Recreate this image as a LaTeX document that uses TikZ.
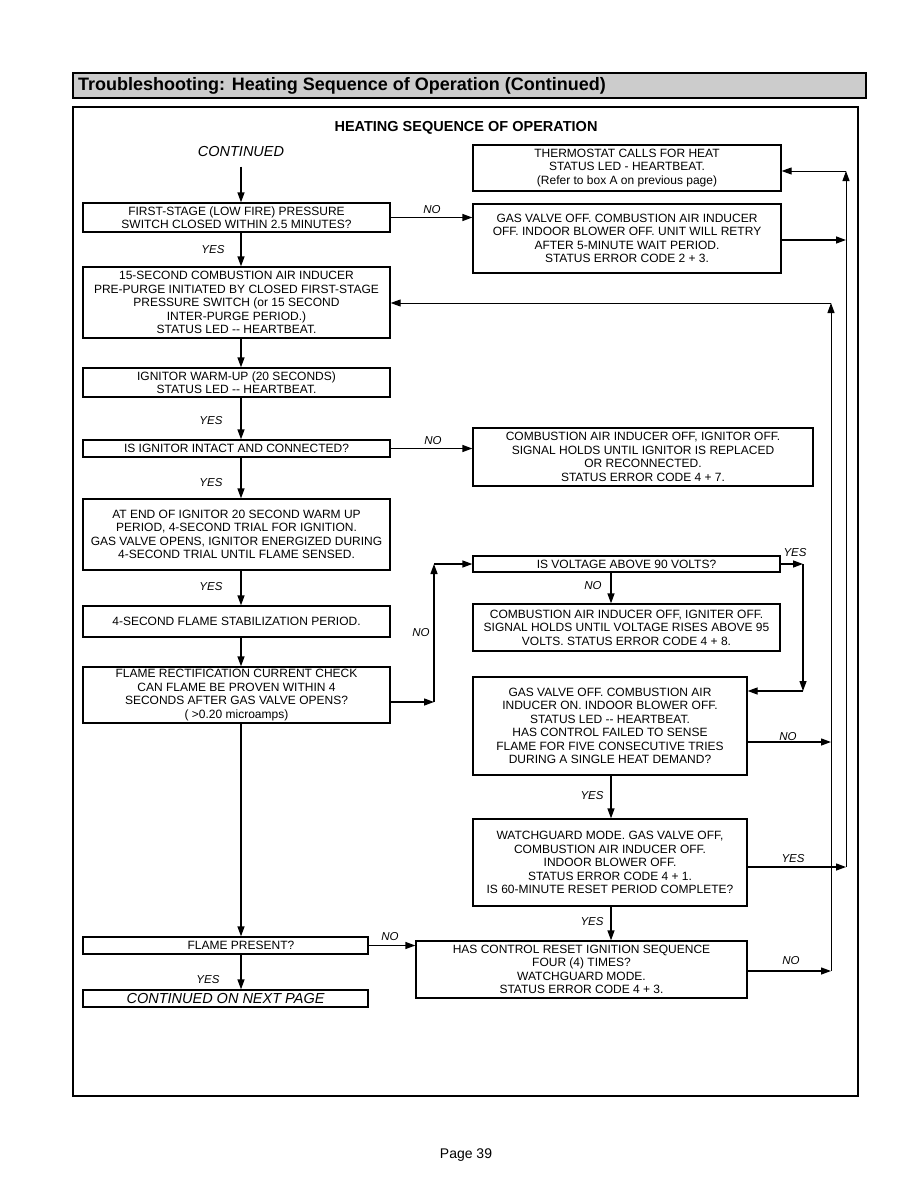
\documentclass[tikz,border=0pt]{standalone}
\usepackage{fontspec}
\setmainfont{Liberation Sans}
\usetikzlibrary{arrows.meta,positioning,calc}

\begin{document}
\begin{tikzpicture}[x=1pt, y=-1pt,
    box/.style={draw, line width=1.3pt, align=center, inner sep=1pt, font=\fontsize{12}{13.5}\selectfont},
    arr/.style={line width=1.3pt, -{Triangle[length=10pt,width=7pt]}},
    loop/.style={line width=1pt, -{Triangle[length=10pt,width=7pt]}},
    lbl/.style={inner sep=0pt, font=\fontsize{11.5}{12}\selectfont\itshape}]
  \useasboundingbox (0,0) rectangle (918,1188);
  % title bar and frame
  \draw[line width=1.5pt, fill=gray!40] (73,73) rectangle (866,98);
  \node[anchor=west, inner sep=0pt, font=\fontsize{18}{20}\selectfont\bfseries] (title) at (78,85.5) {Troubleshooting: Heating Sequence of Operation (Continued)};
  \draw[line width=2pt] (73,107) rectangle (858,1096);
  \node[font=\fontsize{14.5}{16}\selectfont\bfseries] (head) at (466,128) {HEATING SEQUENCE OF OPERATION};
  \node[font=\fontsize{14.5}{16}\selectfont\itshape] (cont) at (241,152) {CONTINUED};
  \node[font=\fontsize{14}{16}\selectfont] (page) at (466,1155) {Page 39};

  % left column
  \node[box, minimum width=307pt, minimum height=29pt] (stage1) at (236.5,217.5) {FIRST-STAGE (LOW FIRE) PRESSURE\\SWITCH CLOSED WITHIN 2.5 MINUTES?};
  \node[box, minimum width=307pt, minimum height=71pt] (purge) at (236.5,302.5) {15-SECOND COMBUSTION AIR INDUCER\\PRE-PURGE INITIATED BY CLOSED FIRST-STAGE\\PRESSURE SWITCH (or 15 SECOND\\INTER-PURGE PERIOD.)\\STATUS LED -{}- HEARTBEAT.};
  \node[box, minimum width=307pt, minimum height=29pt] (warmup) at (236.5,382.5) {IGNITOR WARM-UP (20 SECONDS)\\STATUS LED -{}- HEARTBEAT.};
  \node[box, minimum width=307pt, minimum height=17pt] (intact) at (236.5,448.5) {IS IGNITOR INTACT AND CONNECTED?};
  \node[box, minimum width=307pt, minimum height=71pt] (trial) at (236.5,534.5) {AT END OF IGNITOR 20 SECOND WARM UP\\PERIOD, 4-SECOND TRIAL FOR IGNITION.\\GAS VALVE OPENS, IGNITOR ENERGIZED DURING\\4-SECOND TRIAL UNTIL FLAME SENSED.};
  \node[box, minimum width=307pt, minimum height=31pt] (stab) at (236.5,621.5) {4-SECOND FLAME STABILIZATION PERIOD.};
  \node[box, minimum width=307pt, minimum height=56pt] (rect) at (236.5,695) {FLAME RECTIFICATION CURRENT CHECK\\CAN FLAME BE PROVEN WITHIN 4\\SECONDS AFTER GAS VALVE OPENS?\\( >0.20 microamps)};
  \node[box, minimum width=285pt, minimum height=17pt] (flame) at (225.5,945.5) {\hspace*{31pt}FLAME PRESENT?};
  \node[box, minimum width=285pt, minimum height=17pt, font=\fontsize{14.5}{15}\selectfont\itshape] (nextpg) at (225.5,998.5) {CONTINUED ON NEXT PAGE};

  % right column
  \node[box, minimum width=308pt, minimum height=46pt] (thermo) at (627,168) {THERMOSTAT CALLS FOR HEAT\\STATUS LED - HEARTBEAT.\\(Refer to box A on previous page)};
  \node[box, minimum width=308pt, minimum height=69pt] (retry) at (627,238.5) {GAS VALVE OFF. COMBUSTION AIR INDUCER\\OFF. INDOOR BLOWER OFF. UNIT WILL RETRY\\AFTER 5-MINUTE WAIT PERIOD.\\STATUS ERROR CODE 2 + 3.};
  \node[box, minimum width=340pt, minimum height=58pt] (ignoff) at (643,457) {COMBUSTION AIR INDUCER OFF, IGNITOR OFF.\\SIGNAL HOLDS UNTIL IGNITOR IS REPLACED\\OR RECONNECTED.\\STATUS ERROR CODE 4 + 7.};
  \node[box, minimum width=307pt, minimum height=16pt] (volt) at (626.5,564) {IS VOLTAGE ABOVE 90 VOLTS?};
  \node[box, minimum width=307pt, minimum height=47pt] (lowv) at (626.5,627.5) {COMBUSTION AIR INDUCER OFF, IGNITER OFF.\\SIGNAL HOLDS UNTIL VOLTAGE RISES ABOVE 95\\VOLTS. STATUS ERROR CODE 4 + 8.};
  \node[box, minimum width=274pt, minimum height=98pt] (fail5) at (610,726) {GAS VALVE OFF. COMBUSTION AIR\\INDUCER ON. INDOOR BLOWER OFF.\\STATUS LED -{}- HEARTBEAT.\\HAS CONTROL FAILED TO SENSE\\FLAME FOR FIVE CONSECUTIVE TRIES\\DURING A SINGLE HEAT DEMAND?};
  \node[box, minimum width=274pt, minimum height=87pt] (watch) at (610,862.5) {WATCHGUARD MODE. GAS VALVE OFF,\\COMBUSTION AIR INDUCER OFF.\\INDOOR BLOWER OFF.\\STATUS ERROR CODE 4 + 1.\\IS 60-MINUTE RESET PERIOD COMPLETE?};
  \node[box, minimum width=331pt, minimum height=57pt] (reset) at (581.5,969.5) {HAS CONTROL RESET IGNITION SEQUENCE\\FOUR (4) TIMES?\\WATCHGUARD MODE.\\STATUS ERROR CODE 4 + 3.};

  \coordinate (spine) at (241,0);
  \coordinate (midcol) at (611,0);
  \coordinate (nojog) at (434,702);
  \coordinate (nojogtop) at (434,564);
  \coordinate (yesjog) at (803,564);
  \coordinate (yesjogbot) at (803,691);
  \coordinate (retryout) at (846,240);
  \coordinate (failno) at (831,742);
  \coordinate (watchyes) at (846,867);
  \coordinate (resetno) at (831,971);
  \coordinate (innertop) at (831,303);
  \coordinate (outertop) at (846,171);

  % main sequence
  \draw[arr, shorten <=6pt] (cont.south) -- (stage1.north -| spine);
  \draw[arr] (stage1.south -| spine) -- (purge.north -| spine);
  \draw[arr] (purge.south -| spine) -- (warmup.north -| spine);
  \draw[arr] (warmup.south -| spine) -- (intact.north -| spine);
  \draw[arr] (intact.south -| spine) -- (trial.north -| spine);
  \draw[arr] (trial.south -| spine) -- (stab.north -| spine);
  \draw[arr] (stab.south -| spine) -- (rect.north -| spine);
  \draw[arr] (rect.south -| spine) -- (flame.north -| spine);
  \draw[arr] (flame.south -| spine) -- (nextpg.north -| spine);

  % branches
  \draw[arr] (stage1.east) -- (stage1.east -| retry.west);
  \draw[arr] (intact.east) -- (intact.east -| ignoff.west);
  \draw[arr] (rect.east |- nojog) -- (nojog);
  \draw[arr] (nojog) -- (nojogtop);
  \draw[arr] (nojogtop) -- (volt.west);
  \draw[arr] (volt.south -| midcol) -- (lowv.north -| midcol);
  \draw[arr] (volt.east) -- (yesjog);
  \draw[arr] (yesjog) -- (yesjogbot);
  \draw[arr] (yesjogbot) -- (yesjogbot -| fail5.east);
  \draw[arr] (fail5.south -| midcol) -- (watch.north -| midcol);
  \draw[arr] (watch.south -| midcol) -- (reset.north -| midcol);
  \draw[arr] (flame.east) -- (flame.east -| reset.west);
  \draw[arr] (retry.east |- retryout) -- (retryout);
  \draw[arr] (fail5.east |- failno) -- (failno);
  \draw[arr] (watch.east |- watchyes) -- (watchyes);
  \draw[arr] (reset.east |- resetno) -- (resetno);

  % return loops
  \draw[loop] (resetno) -- (innertop);
  \draw[loop] (innertop) -- (innertop -| purge.east);
  \draw[loop] (watchyes) -- (outertop);
  \draw[loop] (outertop) -- (outertop -| thermo.east);

  % labels
  \node[lbl] (l1) at (213,250) {YES};
  \node[lbl] (l2) at (432,210) {NO};
  \node[lbl] (l3) at (211,421) {YES};
  \node[lbl] (l4) at (433,441) {NO};
  \node[lbl] (l5) at (211,483) {YES};
  \node[lbl] (l6) at (211,587) {YES};
  \node[lbl] (l7) at (421,633) {NO};
  \node[lbl] (l8) at (593,586) {NO};
  \node[lbl] (l9) at (795,553) {YES};
  \node[lbl] (l10) at (788,737) {NO};
  \node[lbl] (l11) at (592,796) {YES};
  \node[lbl] (l12) at (793,859) {YES};
  \node[lbl] (l13) at (592,922) {YES};
  \node[lbl] (l14) at (791,961) {NO};
  \node[lbl] (l15) at (390,937) {NO};
  \node[lbl] (l16) at (208,980) {YES};
\end{tikzpicture}
\end{document}
